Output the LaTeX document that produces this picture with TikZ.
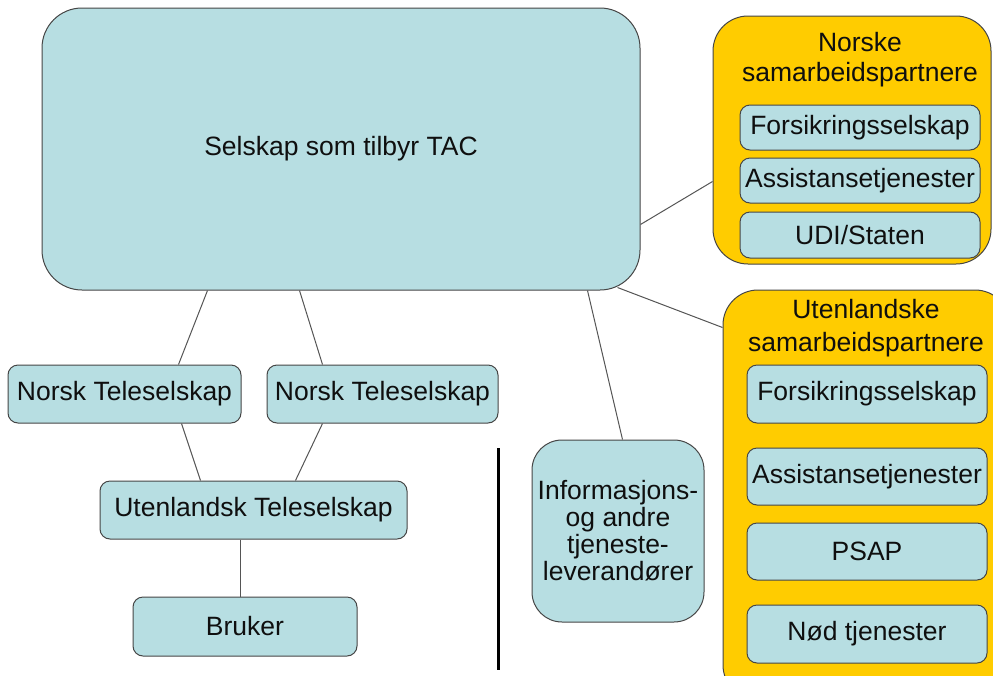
\documentclass[tikz,border=0pt]{standalone}
\usepackage{fontspec}
\setmainfont{Liberation Sans}
\usetikzlibrary{calc}
\definecolor{boxblue}{RGB}{183,222,226}
\definecolor{boxyellow}{RGB}{255,204,0}
\definecolor{edgegray}{RGB}{70,70,70}
\definecolor{linkgray}{RGB}{85,85,85}
\definecolor{txt}{RGB}{15,15,15}
\tikzset{
  bluebox/.style={draw=edgegray, line width=1pt, fill=boxblue, rounded corners=10pt,
    inner sep=0pt, align=center, text=txt, font=\fontsize{26.5}{29}\selectfont},
  yellowbox/.style={draw=edgegray, line width=1pt, fill=boxyellow, rounded corners=35pt, inner sep=0pt},
  titletext/.style={inner sep=0pt, align=center, text=txt},
  link/.style={draw=linkgray, line width=1pt},
}
\begin{document}
\begin{tikzpicture}[x=1pt,y=-1pt]
\clip (0,0) rectangle (993,675);
\fill[white] (0,0) rectangle (993,675);

% main
\node[bluebox, rounded corners=40pt, minimum width=598pt, minimum height=282pt] (main) at (341,149) {\raisebox{-4pt}{Selskap som tilbyr TAC}};

% Norske
\node[yellowbox, minimum width=278pt, minimum height=248pt] (nor) at (852,140) {};
\node[titletext, font=\fontsize{26.5}{30}\selectfont] (nortitle) at (860,60) {Norske\\samarbeidspartnere};
\node[bluebox, minimum width=240pt, minimum height=45pt] (nf) at (860,127.5) {Forsikringsselskap};
\node[bluebox, minimum width=240pt, minimum height=45pt] (na) at (860,180.5) {Assistansetjenester};
\node[bluebox, minimum width=240pt, minimum height=46pt] (nu) at (860,235) {UDI/Staten};

% Utenlandske
\node[yellowbox, minimum width=287pt, minimum height=410pt] (utl) at (866.5,495) {};
\node[titletext, font=\fontsize{26.5}{33}\selectfont] (utltitle) at (866,328.5) {Utenlandske\\samarbeidspartnere};
\node[bluebox, minimum width=240pt, minimum height=58pt] (uf) at (867,394) {Forsikringsselskap};
\node[bluebox, minimum width=240pt, minimum height=57pt] (ua) at (867,476.5) {Assistansetjenester};
\node[bluebox, minimum width=240pt, minimum height=57pt] (up) at (867,551.5) {PSAP};
\node[bluebox, minimum width=240pt, minimum height=58pt] (un) at (867,634) {Nød tjenester};

% left side
\node[bluebox, minimum width=233pt, minimum height=58pt] (nt1) at (124.5,394) {Norsk Teleselskap};
\node[bluebox, minimum width=231pt, minimum height=58pt] (nt2) at (382.5,394) {Norsk Teleselskap};
\node[bluebox, minimum width=307pt, minimum height=58pt] (ut) at (253.5,510) {Utenlandsk Teleselskap};
\node[bluebox, minimum width=224pt, minimum height=59pt] (bruker) at (245,626.5) {Bruker};

% info
\node[bluebox, rounded corners=30pt, minimum width=172pt, minimum height=182pt, font=\fontsize{26.5}{27}\selectfont] (info) at (618,531) {Informasjons-\\og andre\\tjeneste-\\leverandører};

% divider
\coordinate (divtop) at (498,448);
\coordinate (divbot) at (498,670);
\draw[line width=3pt, black] (divtop) -- (divbot);

% connectors
\draw[link] ($(main.south west)+(166,0)$) -- ($(nt1.north west)+(171,0)$);
\draw[link] ($(main.south west)+(258,0)$) -- ($(nt2.north west)+(56,0)$);
\draw[link] ($(nt1.south west)+(174,0)$) -- ($(ut.north west)+(101,0)$);
\draw[link] ($(nt2.south west)+(56,0)$) -- ($(ut.north west)+(196,0)$);
\draw[link] ($(ut.south west)+(141,0)$) -- ($(bruker.north west)+(108,0)$);
\draw[link] ($(main.south west)+(546,0)$) -- ($(info.north west)+(91,0)$);
\draw[link] ($(main.north east)+(0,217)$) -- ($(nor.north west)+(0,166)$);
\draw[link] ($(main.south east)+(-23,-3)$) -- ($(utl.north west)+(0,38)$);
\end{tikzpicture}
\end{document}
